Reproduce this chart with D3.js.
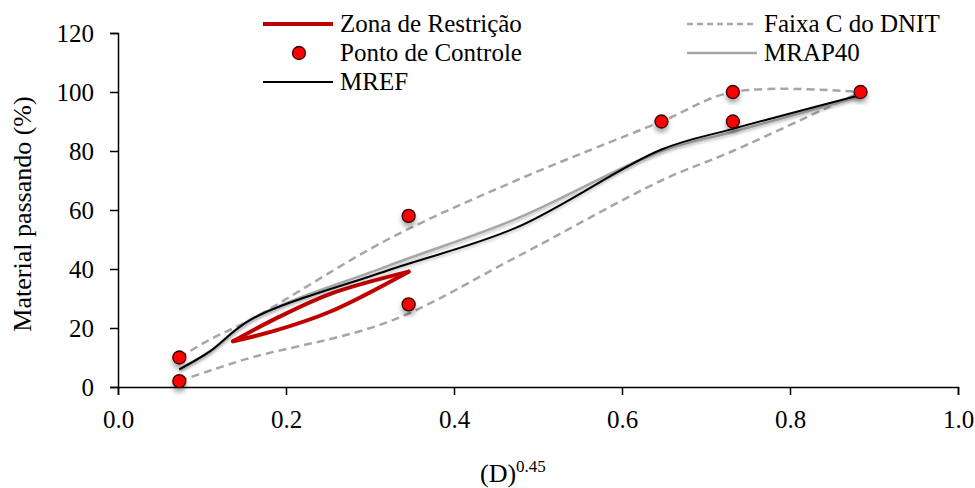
<!DOCTYPE html>
<html>
<head>
<meta charset="utf-8">
<script src="https://cdn.jsdelivr.net/npm/d3@7"></script>
<style>
  body { margin: 0; background: #fff; }
  svg { display: block; }
  text { font-family: "Liberation Serif", "Times New Roman", serif; fill: #000; }
</style>
</head>
<body>
<svg id="chart" width="975" height="488"></svg>
<script>
// abscissa (D)^0.45 of the sieves used
var xPeneiras = [0.073, 0.109, 0.159, 0.321, 0.474, 0.647, 0.732, 0.884];

// Faixa C do DNIT (limits)
var faixaSup = [10, 16, 23, 50, 70, 90, 100, 100];
var faixaInf = [2, 5.5, 10, 22, 44, 70, 80, 100];

// misturas
var mref   = [6, 12, 23, 39.5, 54, 80.5, 87.5, 99];
var mrap40 = [6, 12, 23, 41, 57, 80, 86.5, 98.5];

// pontos de controle
var xControle = [0.073, 0.073, 0.346, 0.346, 0.647, 0.732, 0.732, 0.884];
var yControle = [10, 2, 58, 28, 90, 100, 90, 100];

// zona de restricao
var xZona = [0.137, 0.187, 0.253, 0.346];
var zonaSup = [15.5, 23.1, 31.6, 39.1];
var zonaInf = [15.5, 19.1, 25.6, 39.1];

var xTicks = [0, 0.2, 0.4, 0.6, 0.8, 1.0];
var yTicks = [0, 20, 40, 60, 80, 100, 120];

var FONTE = "Liberation Serif";

var svg = d3.select("#chart");

var x = d3.scaleLinear().domain([0, 1]).range([118, 958]);
var y = d3.scaleLinear().domain([0, 120]).range([387, 33]);

var defs = svg.append("defs");
var sombra = defs.append("filter").attr("id", "sombra")
    .attr("x", "-50%").attr("y", "-50%").attr("width", "200%").attr("height", "200%");
sombra.append("feDropShadow")
    .attr("dx", 0).attr("dy", 4).attr("stdDeviation", 2.5)
    .attr("flood-color", "#000").attr("flood-opacity", 0.35);
var sombraLinha = defs.append("filter").attr("id", "sombraLinha")
    .attr("x", "-10%").attr("y", "-10%").attr("width", "120%").attr("height", "120%");
sombraLinha.append("feDropShadow")
    .attr("dx", 0).attr("dy", 2).attr("stdDeviation", 1.5)
    .attr("flood-color", "#000").attr("flood-opacity", 0.25);

// axes
var gx = svg.append("g")
    .attr("transform", "translate(0," + y(0) + ")")
    .call(d3.axisBottom(x).tickValues(xTicks).tickFormat(d3.format(".1f")).tickSize(8).tickPadding(14));
var gy = svg.append("g")
    .attr("transform", "translate(" + x(0) + ",0)")
    .call(d3.axisLeft(y).tickValues(yTicks).tickFormat(d3.format("d")).tickSize(8).tickPadding(16));

[gx, gy].forEach(function(g) {
  g.attr("font-family", FONTE).attr("font-size", 25);
  g.select(".domain").attr("stroke", "#000").attr("stroke-width", 1.5);
  g.selectAll(".tick line").attr("stroke", "#000").attr("stroke-width", 1.5);
  g.selectAll(".tick text")
    .attr("fill", "#000")
    .attr("font-family", FONTE)
    .attr("font-size", 25);
});
gx.selectAll(".tick text").attr("dy", "0.75em");
gy.selectAll(".tick text").attr("dy", "0.35em");

// axis titles
svg.append("text")
    .attr("transform", "translate(31,214) rotate(-90)")
    .attr("text-anchor", "middle")
    .attr("font-family", FONTE)
    .attr("font-size", 26)
    .text("Material passando (%)");

var tx = svg.append("text")
    .attr("x", 480).attr("y", 482)
    .attr("font-family", FONTE)
    .attr("font-size", 26);
tx.append("tspan").text("(D)");
tx.append("tspan").attr("dy", -10).attr("font-size", 17).text("0.45");

var linha = function(xs, ys) {
  return d3.line()
      .x(function(d, i) { return x(xs[i]); })
      .y(function(d) { return y(d); })
      .curve(d3.curveCatmullRom.alpha(0.5))(ys);
};

var plot = svg.append("g");

// Faixa C
[faixaSup, faixaInf].forEach(function(s) {
  plot.append("path")
      .attr("d", linha(xPeneiras, s))
      .attr("fill", "none")
      .attr("stroke", "#a6a6a6")
      .attr("stroke-width", 2.5)
      .attr("stroke-dasharray", "8,5");
});

// zona de restricao
[zonaSup, zonaInf].forEach(function(s) {
  plot.append("path")
      .attr("d", linha(xZona, s))
      .attr("fill", "none")
      .attr("stroke", "#c00000")
      .attr("stroke-width", 4)
      .attr("stroke-linecap", "round");
});

// MRAP40
plot.append("path")
    .attr("d", linha(xPeneiras, mrap40))
    .attr("fill", "none")
    .attr("stroke", "#a6a6a6")
    .attr("stroke-width", 2.5)
    .attr("filter", "url(#sombraLinha)");

// MREF
plot.append("path")
    .attr("d", linha(xPeneiras, mref))
    .attr("fill", "none")
    .attr("stroke", "#000")
    .attr("stroke-width", 2)
    .attr("filter", "url(#sombraLinha)");

// pontos de controle
plot.selectAll("circle.ponto")
  .data(yControle)
  .enter().append("circle")
    .attr("class", "ponto")
    .attr("cx", function(d, i) { return x(xControle[i]); })
    .attr("cy", function(d) { return y(d); })
    .attr("r", 6.5)
    .attr("fill", "#ff0000")
    .attr("stroke", "#300000")
    .attr("stroke-width", 1.3)
    .attr("filter", "url(#sombra)");

// legend
var legenda = [
  {nome: "Zona de Restrição", tipo: "zona", x: 263, y: 24},
  {nome: "Ponto de Controle", tipo: "ponto", x: 263, y: 53},
  {nome: "MREF", tipo: "mref", x: 263, y: 82},
  {nome: "Faixa C do DNIT", tipo: "faixa", x: 687, y: 24},
  {nome: "MRAP40", tipo: "mrap", x: 687, y: 53}
];

var leg = svg.append("g").selectAll("g")
  .data(legenda)
  .enter().append("g")
    .attr("transform", function(d) { return "translate(" + d.x + "," + d.y + ")"; });

leg.each(function(d) {
  var g = d3.select(this);
  if (d.tipo === "ponto") {
    g.append("circle").attr("cx", 36).attr("cy", 0).attr("r", 6.5)
      .attr("fill", "#ff0000").attr("stroke", "#300000").attr("stroke-width", 1.3);
  } else {
    var st = {
      zona: ["#c00000", 4, null],
      mref: ["#000", 2, null],
      faixa: ["#a6a6a6", 2.5, "6,4"],
      mrap: ["#a6a6a6", 2.5, null]
    }[d.tipo];
    g.append("line").attr("x1", 0).attr("x2", 70).attr("y1", 0).attr("y2", 0)
      .attr("stroke", st[0]).attr("stroke-width", st[1])
      .attr("stroke-dasharray", st[2]);
  }
  g.append("text")
      .attr("x", 77).attr("y", 8)
      .attr("font-family", FONTE)
      .attr("font-size", 25)
      .text(d.nome);
});
</script>
</body>
</html>
